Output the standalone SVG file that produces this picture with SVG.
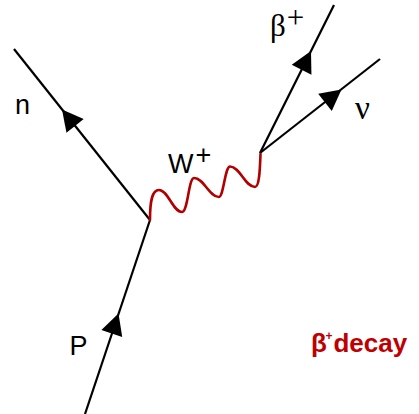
<svg xmlns="http://www.w3.org/2000/svg" xmlns:xlink="http://www.w3.org/1999/xlink" width="419" height="414" viewBox="0 0 419 414">
  <style>
    .fermion { stroke: #000; stroke-width: 2.2; fill: none; stroke-linecap: butt; }
    .boson { stroke: #b00000; stroke-width: 2.6; fill: none; stroke-linecap: round; stroke-linejoin: round; }
    .lbl { font-family: "Liberation Sans", Arial, sans-serif; font-size: 27px; fill: #000; }
    .greek { font-family: "Liberation Serif", "Times New Roman", serif; fill: #000; }
    .title { font-family: "Liberation Sans", Arial, sans-serif; font-weight: bold; fill: #c00000; }
  </style>
  <defs>
    <path id="ah" d="M0,0 L-21,-11 L-21,11 Z" fill="#000"/>
  </defs>
  <rect width="419" height="414" fill="#fff"/>
  <g id="connectors">
    <line class="fermion" x1="14" y1="49" x2="150" y2="220"/>
    <line class="fermion" x1="85" y1="414" x2="150" y2="220"/>
    <line class="fermion" x1="260" y1="153" x2="334" y2="5"/>
    <line class="fermion" x1="260" y1="153" x2="380" y2="59"/>
    <use xlink:href="#ah" transform="translate(62,109.5) rotate(-128.5)"/>
    <use xlink:href="#ah" transform="translate(118.5,313.5) rotate(-71.4)"/>
    <use xlink:href="#ah" transform="translate(311,51) rotate(-63.4)"/>
    <use xlink:href="#ah" transform="translate(341.5,89.5) rotate(-38.1)"/>
    <path class="boson" d="M150,220 C150,201 152,190 159,190 C168,190 173,212 182,212 C188,212 188.5,178 194,178 C204,178 209,197 219,197 C223.5,197 225,166.5 230,166.5 C240,166.5 245,187 255,187 C259.5,187 260,168 260.5,154"/>
  </g>
  <g id="n"><text class="lbl" x="15" y="114">n</text></g>
  <g id="P"><text class="lbl" x="69.5" y="355">P</text></g>
  <g id="W"><text class="lbl" x="168" y="172.5">W<tspan dx="2" dy="-9">+</tspan></text></g>
  <g id="beta"><text class="greek" font-size="31" x="270" y="36">β<tspan dx="1" dy="-8">+</tspan></text></g>
  <g id="nu"><text class="greek" font-size="33" x="355" y="119">ν</text></g>
  <g id="label">
    <text class="title" font-size="26" x="311" y="352">β<tspan font-size="12" dx="-1.5" dy="-12.5">+</tspan><tspan dx="1" dy="12.5">decay</tspan></text>
  </g>
</svg>
